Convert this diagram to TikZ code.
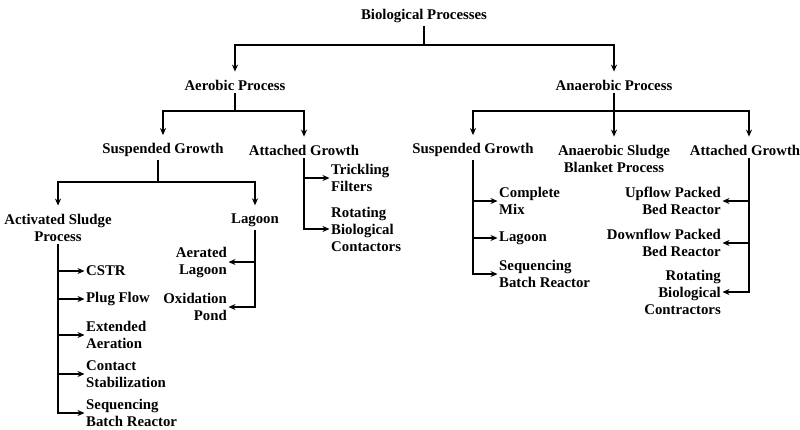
\documentclass[tikz,border=0pt]{standalone}
\usepackage{fontspec}
\setmainfont{Liberation Serif}
\usetikzlibrary{arrows.meta}
\begin{document}
\begin{tikzpicture}[x=1pt,y=-1pt,
  lbl/.style={font=\bfseries\fontsize{14.8}{17}\selectfont, inner sep=0pt},
  cl/.style={lbl,align=center},
  ll/.style={lbl,align=left,anchor=west},
  rl/.style={lbl,align=right,anchor=east},
  ln/.style={line width=1.5pt},
  ar/.style={ln,-{Stealth[length=7pt,width=6pt]},shorten >=8pt},
  sar/.style={ln,-{Stealth[length=7pt,width=6pt]},shorten >=1.5pt}]
\useasboundingbox (0,0) rectangle (800,429);

% nodes
\node[cl] (bio) at (424,16) {Biological Processes};
\node[cl] (aer) at (235,85) {Aerobic Process};
\node[cl] (ana) at (614,85) {Anaerobic Process};
\node[cl] (asg) at (163,150) {Suspended Growth};
\node[cl] (aag) at (304,150) {Attached Growth};
\node[cl] (nsg) at (473,150) {Suspended Growth};
\node[cl] (nsb) at (614,158.5) {Anaerobic Sludge\\Blanket Process};
\node[cl] (nag) at (745,150) {Attached Growth};

\node[cl] (asp) at (58,227.5) {Activated Sludge\\Process};
\node[cl] (lag) at (255,220) {Lagoon};

\node[ll] (cstr) at (86,271) {CSTR};
\node[ll] (plug) at (86,299) {Plug Flow};
\node[ll] (ext) at (86,335) {Extended\\Aeration};
\node[ll] (con) at (86,374) {Contact\\Stabilization};
\node[ll] (sbra) at (86,413) {Sequencing\\Batch Reactor};

\node[rl] (aerl) at (227,262) {Aerated\\Lagoon};
\node[rl] (oxp) at (227,307) {Oxidation\\Pond};

\node[ll] (tf) at (331,178) {Trickling\\Filters};
\node[ll] (rbc) at (331,229) {Rotating\\Biological\\Contactors};

\node[ll] (cm) at (499,201) {Complete\\Mix};
\node[ll] (nlag) at (499,238) {Lagoon};
\node[ll] (sbrb) at (499,274) {Sequencing\\Batch Reactor};

\node[rl] (upf) at (721,201) {Upflow Packed\\Bed Reactor};
\node[rl] (dnf) at (721,243) {Downflow Packed\\Bed Reactor};
\node[rl] (rbcb) at (721,292) {Rotating\\Biological\\Contractors};

% junctions
\coordinate (j0) at (424,45);
\coordinate (j1) at (235,111);
\coordinate (j2) at (614,111);
\coordinate (k) at (749,111);
\coordinate (j3) at (158,182);

% level 1
\draw[ln,shorten <=3pt] (bio) -- (j0);
\draw[ar] (j0) -| (aer);
\draw[ar] (j0) -| (ana);

% aerobic
\draw[ln,shorten <=3pt] (aer) -- (j1);
\draw[ar] (j1) -| (asg);
\draw[ar] (j1) -| (aag);

% anaerobic
\draw[ln,shorten <=3pt] (ana) -- (j2);
\draw[ar] (j2) -- (nsb);
\draw[ar] (j2) -| (nsg);
\draw[ar] (j2) -- (k) -- (nag.north -| k);

% aerobic suspended growth
\draw[ln,shorten <=3pt] (asg.south -| j3) -- (j3);
\draw[ar] (j3) -| (asp);
\draw[ar] (j3) -| (lag);

% activated sludge
\draw[sar,shorten <=3pt] (asp) |- (sbra);
\draw[sar] (asp.south |- cstr) -- (cstr);
\draw[sar] (asp.south |- plug) -- (plug);
\draw[sar] (asp.south |- ext) -- (ext);
\draw[sar] (asp.south |- con) -- (con);

% lagoon
\draw[sar,shorten <=3pt] (lag) |- (oxp);
\draw[sar] (lag.south |- aerl) -- (aerl);

% aerobic attached
\draw[sar,shorten <=3pt] (aag) |- (rbc);
\draw[sar] (aag.south |- tf) -- (tf);

% anaerobic suspended
\draw[sar,shorten <=3pt] (nsg) |- (sbrb);
\draw[sar] (nsg.south |- cm) -- (cm);
\draw[sar] (nsg.south |- nlag) -- (nlag);

% anaerobic attached
\draw[sar,shorten <=3pt] (nag.south -| k) |- (rbcb);
\draw[sar] (k |- upf) -- (upf);
\draw[sar] (k |- dnf) -- (dnf);
\end{tikzpicture}
\end{document}
